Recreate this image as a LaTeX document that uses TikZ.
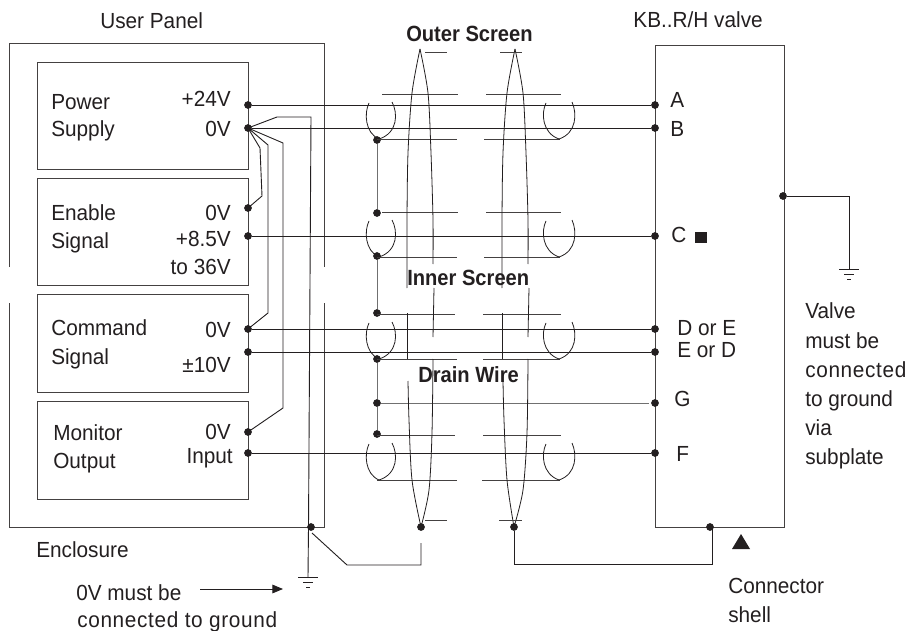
\documentclass[tikz,border=0pt]{standalone}
\usepackage{fontspec}
\setmainfont{Liberation Sans}[FakeStretch=0.95]
\newfontfamily\boldlabel{Liberation Sans Bold}[FakeStretch=0.915]
\usetikzlibrary{arrows.meta}
\definecolor{ink}{HTML}{231F20}
\definecolor{wiregray}{HTML}{707070}
\tikzset{
  wire/.style={draw=ink,line width=0.68pt,line join=miter},
  shield/.style={draw=ink!85,line width=0.68pt},
  lens/.style={draw=ink,line width=0.6pt},
  drain/.style={draw=wiregray,line width=0.72pt},
  frameline/.style={draw=ink!85,line width=0.72pt},
  dotnode/.style={circle,fill=ink,inner sep=0pt,minimum size=5.8pt},
  lbl/.style={anchor=base west,inner sep=0pt,text=ink,font=\fontsize{16.4}{18}\selectfont},
  rlbl/.style={anchor=base east,inner sep=0pt,text=ink,font=\fontsize{16.4}{18}\selectfont},
  widelbl/.style={lbl,font=\fontsize{16.4}{18}\selectfont\addfontfeatures{LetterSpace=3}},
  blbl/.style={anchor=base west,inner sep=0pt,text=ink,font=\fontsize{16.5}{18}\boldlabel\selectfont},
}
\begin{document}
\begin{tikzpicture}[x=0.75pt,y=-0.75pt]
\useasboundingbox[fill=white] (0,0) rectangle (914,631);
% enclosure
\draw[frameline] (9,267) -- (9,43) -- (324,43) -- (324,267);
\draw[frameline] (9,303) -- (9,527) -- (324,527) -- (324,303);
% device boxes
\node[frameline,minimum width=158.25pt,minimum height=80.25pt,inner sep=0pt,anchor=north west] (ps) at (37,62) {};
\node[frameline,minimum width=158.25pt,minimum height=80.25pt,inner sep=0pt,anchor=north west] (en) at (37,178) {};
\node[frameline,minimum width=158.25pt,minimum height=73.5pt,inner sep=0pt,anchor=north west] (cm) at (37,294) {};
\node[frameline,minimum width=158.25pt,minimum height=73.5pt,inner sep=0pt,anchor=north west] (mo) at (37,401) {};
% valve box
\node[frameline,minimum width=96.75pt,minimum height=361.5pt,inner sep=0pt,anchor=north west] (valve) at (655,45) {};
% left dots
\node[dotnode] (p24) at (248,105) {};
\node[dotnode] (p0) at (248,128) {};
\node[dotnode] (e0) at (248,208) {};
\node[dotnode] (e8) at (248,236) {};
\node[dotnode] (c0) at (248,329) {};
\node[dotnode] (c10) at (248,352) {};
\node[dotnode] (m0) at (248,432) {};
\node[dotnode] (mi) at (248,453) {};
% valve dots
\node[dotnode] (vA) at (655,105) {};
\node[dotnode] (vB) at (655,128) {};
\node[dotnode] (vC) at (655,236) {};
\node[dotnode] (vD) at (655,329) {};
\node[dotnode] (vE) at (655,352) {};
\node[dotnode] (vG) at (655,403) {};
\node[dotnode] (vF) at (655,453) {};
\node[dotnode] (vR) at (783,196) {};
\node[dotnode] (vS) at (710,527) {};
% other dots
\node[dotnode] (en0) at (311,527) {};
\node[dotnode] (d1) at (377,140) {};
\node[dotnode] (d2) at (377,213) {};
\node[dotnode] (d3) at (377,256) {};
\node[dotnode] (d4) at (377,313) {};
\node[dotnode] (d5) at (377,359) {};
\node[dotnode] (d6) at (377,403) {};
\node[dotnode] (d7) at (377,434) {};
\node[dotnode] (os1) at (421,527) {};
\node[dotnode] (os2) at (514,527) {};
% signal wires
\draw[wire] (p24) -- (vA);
\draw[wire] (p0) -- (vB);
\draw[wire] (e8) -- (vC);
\draw[wire] (c0) -- (vD);
\draw[wire] (c10) -- (vE);
\draw[wire] (mi) -- (vF);
\draw[drain] (d6) -- (649,403);
% 0V wires
\coordinate (g1) at (308,577);
\draw[wire] (p0.center) -- (277,117) -- (311,117) -- (308.5,527) -- (g1);
\draw[wire] (p0.center) -- (283,143) -- (283,408) -- (m0.center);
\draw[wire] (p0.center) -- (268,145) -- (268,313) -- (c0.center);
\draw[wire] (p0.center) -- (260,148) -- (262,196) -- (e0.center);
% ground symbols
\draw[wire] (298,577) -- (318,577) (303,582) -- (313,582) (306,587) -- (310,587);
\coordinate (g2) at (849,269);
\draw[wire] (vR) -- (849,196) -- (g2);
\draw[wire] (839,269) -- (859,269) (844,274) -- (854,274) (847,279) -- (851,279);
% drain wire
\draw[drain] (d1) -- (d2);
\draw[drain] (d3) -- (d4);
\draw[drain] (d5) -- (d6);
\draw[drain] (d6) -- (d7);
% shield lines
\foreach \t/\b/\a/\c/\d/\e in {94/139/382/458/486/484,212/257/382/458/486/484,314/359/377/455/483/483,435/480/377/455/483/482}{
  \draw[shield] (\a,\t) -- (\c,\t);
  \draw[shield] (\d,\t) -- (561,\t);
  \draw[shield] (377,\b) -- (457,\b);
  \draw[shield] (\e,\b) -- (560,\b);
}
% loops
\foreach \o in {0,118,220,341}{
  \draw[lens] (369,103+\o) .. controls (364,113+\o) and (365,133+\o) .. (379,139+\o);
  \draw[lens] (392,102+\o) .. controls (398,113+\o) and (398,133+\o) .. (379,139+\o);
  \draw[lens] (546,103+\o) .. controls (541,113+\o) and (542,133+\o) .. (559,139+\o);
  \draw[lens] (572,102+\o) .. controls (577,113+\o) and (577,133+\o) .. (559,139+\o);
}
% outer screens
\draw[lens] plot[smooth] coordinates {(420,49) (412,93) (408,153) (407,220) (407,288)};
\draw[lens] plot[smooth] coordinates {(420,49) (428,93) (431,153) (433,220) (433,264)};
\draw[lens] (434,288) -- (433,337);
\draw[lens] (407,313) -- (407,359);
\draw[lens] plot[smooth] coordinates {(408,381) (409,420) (412,480) (421,527)};
\draw[lens] plot[smooth] coordinates {(433,359) (432,433) (429,490) (421,527)};
\draw[lens] plot[smooth] coordinates {(515,49) (507,93) (503,153) (502,220) (502,288)};
\draw[lens] plot[smooth] coordinates {(515,49) (523,93) (526,153) (528,220) (528,264)};
\draw[lens] (529,288) -- (528,337);
\draw[lens] (502,313) -- (502,359);
\draw[lens] plot[smooth] coordinates {(503,381) (504,420) (507,480) (514,527)};
\draw[lens] plot[smooth] coordinates {(528,359) (527,433) (523,490) (514,527)};
\draw[shield] (425,52) -- (447,52) (500,52) -- (522,52) (425,520) -- (447,520) (499,520) -- (522,520);
% shell wires
\coordinate (swa) at (312,533);
\coordinate (swb) at (421,543);
\draw[wire] (swa) -- (347,565) -- (421,565) -- (swb);
\draw[wire] (os2) -- (514,564) -- (712,564) -- (712,527);
% arrow
\coordinate (ara) at (200,589);
\coordinate (arb) at (283,589);
\draw[wire,-{Triangle[length=8pt,width=6.5pt]}] (ara) -- (arb);
% markers
\fill[ink] (741,534) -- (750,549) -- (732,549) -- cycle;
\fill[ink] (695,232) rectangle (707,243);
% labels
\node[lbl] (t1) at (100,29) {User Panel};
\node[lbl] (t2) at (51,110) {Power};
\node[lbl] (t3) at (51,137) {Supply};
\node[rlbl] (t4) at (231,107) {+24V};
\node[rlbl] (t5) at (231,137) {0V};
\node[lbl] (t6) at (51,221) {Enable};
\node[lbl] (t7) at (51,248) {Signal};
\node[rlbl] (t8) at (231,220) {0V};
\node[rlbl] (t9) at (231,247) {+8.5V};
\node[rlbl] (t10) at (231,274) {to 36V};
\node[lbl] (t11) at (51,335) {Command};
\node[lbl] (t12) at (51,364) {Signal};
\node[rlbl] (t13) at (231,337) {0V};
\node[rlbl] (t14) at (231,372) {±10V};
\node[lbl] (t15) at (53,440) {Monitor};
\node[lbl] (t16) at (53,468) {Output};
\node[rlbl] (t17) at (231,439) {0V};
\node[rlbl] (t18) at (233,463) {Input};
\node[lbl] (t19) at (36,557) {Enclosure};
\node[lbl] (t20) at (76,600) {0V must be};
\node[widelbl] (t21) at (77,627) {connected to ground};
\node[blbl] (t22) at (406,42) {Outer Screen};
\node[blbl] (t23) at (407,285) {Inner Screen};
\node[blbl] (t24) at (418,382) {Drain Wire};
\node[rlbl] (t25) at (763,28) {KB..R/H valve};
\node[lbl] (t26) at (670,108) {A};
\node[lbl] (t27) at (670,137) {B};
\node[lbl] (t28) at (671,243) {C};
\node[lbl] (t29) at (677,335) {D or E};
\node[lbl] (t30) at (677,357) {E or D};
\node[lbl] (t31) at (674,406) {G};
\node[lbl] (t32) at (676,461) {F};
\node[lbl] (t33) at (805,318) {Valve};
\node[lbl] (t34) at (805,348) {must be};
\node[widelbl] (t35) at (805,377) {connected};
\node[lbl] (t36) at (805,406) {to ground};
\node[lbl] (t37) at (805,435) {via};
\node[lbl] (t38) at (805,464) {subplate};
\node[lbl] (t39) at (728,593) {Connector};
\node[lbl] (t40) at (728,622) {shell};
\end{tikzpicture}
\end{document}
